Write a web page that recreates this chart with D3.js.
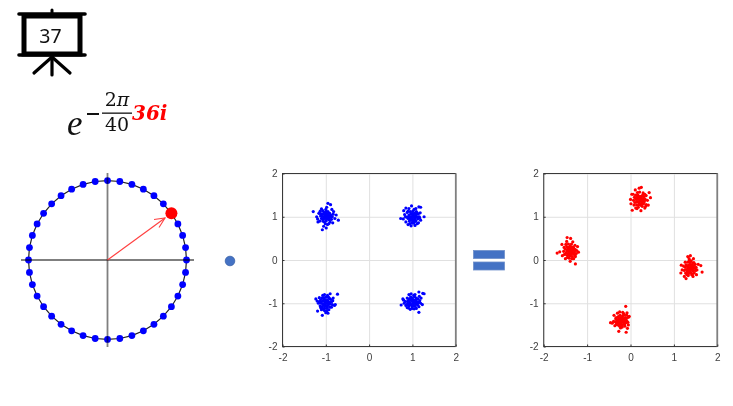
<!DOCTYPE html>
<html>
<head>
<meta charset="utf-8">
<script src="https://cdn.jsdelivr.net/npm/d3@7"></script>
<style>
    html, body { margin: 0; padding: 0; background: #fff; }
    svg { display: block; filter: blur(0.3px); }
    .tick text { font-family: "Liberation Sans", sans-serif; font-size: 10px; fill: #404040; }
    .grid line { stroke: #e0e0e0; stroke-width: 1; }
    .grid path, .grid text { display: none; }
    .ax path { display: none; }
    .ax line { stroke: #333; }
</style>
</head>
<body>
<svg id="chart" width="733" height="406"></svg>
<script>
// ===== Data =====
const slideNumber = '37';
const axisTicks = [-2, -1, 0, 1, 2];
const activeIndex = 4;

// 40 points of the unit circle, activeIndex is the red one
const circleRe = [1, 0.988, 0.951, 0.891, 0.809, 0.707, 0.588, 0.454, 0.309, 0.156,
    0, -0.156, -0.309, -0.454, -0.588, -0.707, -0.809, -0.891, -0.951, -0.988,
    -1, -0.988, -0.951, -0.891, -0.809, -0.707, -0.588, -0.454, -0.309, -0.156,
    0, 0.156, 0.309, 0.454, 0.588, 0.707, 0.809, 0.891, 0.951, 0.988];
const circleIm = [0, 0.156, 0.309, 0.454, 0.588, 0.707, 0.809, 0.891, 0.951, 0.988,
    1, 0.988, 0.951, 0.891, 0.809, 0.707, 0.588, 0.454, 0.309, 0.156,
    0, -0.156, -0.309, -0.454, -0.588, -0.707, -0.809, -0.891, -0.951, -0.988,
    -1, -0.988, -0.951, -0.891, -0.809, -0.707, -0.588, -0.454, -0.309, -0.156];

const bluePoints = [
    // top left
    [-1.29,1.12],[-1.08,0.70],[-0.95,1.31],[-0.89,1.28],[-0.71,0.92],[-1.18,0.88],[-1.16,1.08],[-1.10,1.18],[-0.98,1.22],[-1.00,1.17],
    [-0.86,1.17],[-0.82,1.12],[-1.05,0.78],[-0.99,0.74],[-0.93,0.84],[-0.84,0.86],[-0.79,0.96],[-0.76,1.04],[-1.21,1.00],[-1.19,0.95],
    [-1.14,0.90],[-1.12,1.02],[-1.10,0.96],[-1.08,1.06],[-1.06,0.94],[-1.05,1.00],[-1.04,1.10],[-1.03,0.88],[-1.02,1.03],[-1.01,0.96],
    [-1.00,1.08],[-0.99,0.91],[-0.98,1.00],[-0.97,1.05],[-0.96,0.95],[-0.95,1.12],[-0.94,0.98],[-0.93,1.02],[-0.92,0.93],[-0.91,1.08],
    [-0.90,0.99],[-0.88,1.03],[-0.87,0.94],[-0.85,1.00],[-0.83,1.06],[-0.96,0.82],[-1.01,0.84],[-1.13,1.13],[-0.90,0.88],[-1.07,1.14],
    [-1.09,1.01],[-1.07,0.90],[-1.04,0.97],[-1.03,1.06],[-1.00,1.00],[-0.99,1.12],[-0.96,1.03],[-0.94,1.07],[-0.93,0.95],[-1.12,1.07],
    // top right
    [0.73,0.96],[0.80,1.14],[0.85,1.20],[0.92,1.19],[0.98,1.25],[1.08,1.19],[1.15,1.23],[1.19,1.22],[1.27,1.00],[1.19,0.92],
    [1.14,0.86],[1.06,0.80],[0.97,0.79],[0.90,0.82],[0.85,0.88],[0.79,0.95],[0.82,1.05],[0.88,1.10],[0.90,0.96],[0.92,1.04],
    [0.93,0.90],[0.95,1.12],[0.96,1.00],[0.97,0.92],[0.98,1.07],[0.99,0.86],[1.00,0.98],[1.01,1.13],[1.02,1.03],[1.03,0.92],
    [1.04,0.87],[1.05,1.08],[1.06,0.97],[1.07,1.02],[1.08,0.90],[1.09,1.12],[1.10,1.00],[1.12,0.95],[1.13,1.06],[1.16,1.00],
    [1.18,1.09],[0.87,0.99],[0.94,0.84],[1.01,0.90],[1.04,1.17],[0.90,1.13],[1.11,0.84],[0.84,1.00],[1.17,0.97],[1.00,1.05],
    [0.94,0.95],[0.96,1.06],[0.99,0.95],[1.01,1.07],[1.03,0.99],[1.05,0.93],[1.08,1.05],[1.11,1.09],[0.91,1.00],[1.02,0.85],
    // bottom left
    [-1.23,-0.90],[-1.20,-0.95],[-1.19,-1.18],[-1.08,-1.28],[-0.95,-1.23],[-0.98,-1.18],[-0.91,-1.09],[-0.80,-1.05],[-0.78,-1.03],[-0.73,-0.79],
    [-0.90,-0.78],[-0.83,-0.88],[-1.03,-0.80],[-1.07,-0.82],[-1.15,-0.87],[-1.17,-1.00],[-1.13,-1.06],[-1.10,-1.15],[-1.03,-1.17],[-1.00,-1.22],
    [-1.12,-0.92],[-1.10,-1.00],[-1.09,-0.88],[-1.08,-1.08],[-1.06,-0.95],[-1.05,-1.03],[-1.04,-0.87],[-1.03,-1.12],[-1.02,-0.98],[-1.01,-0.92],
    [-1.00,-1.06],[-0.99,-0.86],[-0.98,-1.00],[-0.97,-1.12],[-0.96,-0.93],[-0.95,-1.05],[-0.94,-0.86],[-0.92,-0.98],[-0.90,-1.02],[-0.89,-0.91],
    [-0.87,-0.97],[-0.85,-1.03],[-0.84,-0.94],[-0.96,-0.82],[-1.12,-1.10],[-1.15,-0.96],[-1.06,-1.13],[-0.93,-1.15],[-0.87,-1.09],[-1.01,-1.02],
    [-1.11,-0.97],[-1.07,-1.02],[-1.05,-0.90],[-1.03,-1.06],[-1.00,-0.96],[-0.98,-1.08],[-0.95,-0.97],[-0.93,-1.01],[-1.09,-1.12],[-0.92,-0.88],
    // bottom right
    [0.74,-1.04],[0.78,-0.90],[0.80,-0.93],[0.85,-1.05],[0.88,-1.10],[0.92,-0.80],[0.97,-0.78],[1.03,-0.82],[1.15,-0.74],[1.24,-0.77],
    [1.27,-0.78],[1.20,-0.88],[1.23,-1.03],[1.15,-1.08],[1.15,-1.21],[1.04,-1.13],[0.95,-1.14],[1.00,-1.12],[1.09,-1.12],[1.19,-1.00],
    [0.84,-0.96],[0.88,-0.88],[0.89,-1.00],[0.90,-0.94],[0.92,-1.06],[0.93,-0.90],[0.94,-0.99],[0.96,-0.85],[0.97,-1.03],[0.98,-0.93],
    [0.99,-1.08],[1.00,-0.88],[1.01,-0.98],[1.02,-1.05],[1.03,-0.92],[1.04,-1.00],[1.05,-0.85],[1.06,-1.07],[1.07,-0.94],[1.08,-1.02],
    [1.09,-0.88],[1.10,-0.97],[1.12,-1.04],[1.13,-0.90],[1.14,-0.98],[1.16,-0.84],[1.17,-0.94],[0.81,-1.00],[0.91,-1.11],[1.06,-0.80],
    [0.93,-0.96],[0.95,-1.03],[0.97,-0.90],[1.00,-0.95],[1.02,-1.00],[1.04,-0.94],[1.06,-1.00],[1.08,-0.93],[1.11,-1.00],[0.90,-1.03]
];

const redPoints = [
    // left
    [-1.69,0.16],[-1.58,0.36],[-1.63,0.19],[-1.57,0.10],[-1.50,0.03],[-1.39,-0.03],[-1.27,-0.09],[-1.27,0.08],[-1.22,0.31],[-1.28,0.34],
    [-1.38,0.50],[-1.46,0.52],[-1.47,0.43],[-1.53,0.29],[-1.43,0.37],[-1.33,0.42],[-1.24,0.22],[-1.20,0.18],[-1.31,0.03],[-1.45,0.06],
    [-1.54,0.20],[-1.52,0.13],[-1.50,0.25],[-1.48,0.17],[-1.47,0.31],[-1.46,0.11],[-1.44,0.24],[-1.43,0.15],[-1.42,0.29],[-1.41,0.20],
    [-1.40,0.09],[-1.39,0.33],[-1.38,0.22],[-1.37,0.13],[-1.36,0.27],[-1.35,0.18],[-1.34,0.08],[-1.33,0.30],[-1.32,0.23],[-1.31,0.14],
    [-1.30,0.26],[-1.29,0.19],[-1.28,0.11],[-1.27,0.24],[-1.36,0.37],[-1.41,0.04],[-1.25,0.15],[-1.49,0.36],[-1.35,0.03],[-1.44,0.28],
    [-1.46,0.21],[-1.42,0.12],[-1.40,0.26],[-1.38,0.17],[-1.37,0.30],[-1.35,0.22],[-1.33,0.16],[-1.31,0.28],[-1.43,0.20],[-1.39,0.13],
    // top
    [0.00,1.40],[0.01,1.30],[0.04,1.15],[0.03,1.52],[0.06,1.52],[0.11,1.62],[0.20,1.66],[0.25,1.68],[0.43,1.56],[0.46,1.44],
    [0.41,1.27],[0.33,1.20],[0.24,1.14],[0.12,1.20],[0.08,1.27],[0.16,1.56],[0.29,1.55],[0.36,1.49],[0.39,1.38],[0.36,1.28],
    [0.07,1.38],[0.09,1.45],[0.10,1.33],[0.12,1.50],[0.13,1.40],[0.14,1.27],[0.15,1.45],[0.16,1.35],[0.17,1.50],[0.18,1.22],
    [0.19,1.42],[0.20,1.32],[0.21,1.57],[0.22,1.39],[0.23,1.27],[0.24,1.47],[0.25,1.35],[0.26,1.42],[0.27,1.24],[0.28,1.50],
    [0.29,1.38],[0.30,1.30],[0.31,1.44],[0.32,1.35],[0.33,1.52],[0.34,1.40],[0.35,1.24],[0.20,1.46],[0.15,1.19],[0.27,1.33],
    [0.14,1.34],[0.17,1.41],[0.19,1.28],[0.21,1.37],[0.23,1.44],[0.25,1.29],[0.27,1.40],[0.30,1.47],[0.12,1.43],[0.18,1.48],
    // right
    [1.16,-0.30],[1.19,-0.23],[1.17,-0.12],[1.24,-0.38],[1.28,-0.43],[1.33,-0.36],[1.44,-0.38],[1.52,-0.34],[1.65,-0.28],[1.62,-0.13],
    [1.56,-0.10],[1.45,0.03],[1.38,0.10],[1.32,0.08],[1.26,-0.05],[1.22,-0.14],[1.29,-0.31],[1.36,-0.01],[1.46,-0.06],[1.50,-0.24],
    [1.24,-0.24],[1.26,-0.17],[1.27,-0.30],[1.28,-0.11],[1.29,-0.22],[1.30,-0.14],[1.31,-0.27],[1.32,-0.05],[1.33,-0.19],[1.34,-0.31],
    [1.35,-0.12],[1.36,-0.24],[1.37,-0.06],[1.38,-0.17],[1.39,-0.29],[1.40,-0.02],[1.41,-0.21],[1.42,-0.12],[1.43,-0.32],[1.44,-0.17],
    [1.45,-0.25],[1.46,-0.13],[1.47,-0.30],[1.48,-0.19],[1.49,-0.10],[1.51,-0.17],[1.53,-0.23],[1.35,0.03],[1.41,-0.34],[1.30,-0.34],
    [1.33,-0.13],[1.35,-0.20],[1.37,-0.27],[1.39,-0.12],[1.41,-0.16],[1.43,-0.24],[1.45,-0.19],[1.39,-0.21],[1.34,-0.25],[1.43,-0.07],
    // bottom
    [-0.46,-1.45],[-0.42,-1.46],[-0.38,-1.28],[-0.36,-1.52],[-0.27,-1.65],[-0.25,-1.20],[-0.11,-1.07],[-0.10,-1.67],[-0.07,-1.58],[-0.05,-1.50],
    [-0.04,-1.32],[-0.03,-1.30],[-0.08,-1.22],[-0.18,-1.21],[-0.30,-1.23],[-0.34,-1.36],[-0.39,-1.42],[-0.33,-1.49],[-0.23,-1.57],[-0.13,-1.53],
    [-0.35,-1.43],[-0.33,-1.33],[-0.32,-1.42],[-0.30,-1.38],[-0.29,-1.50],[-0.28,-1.31],[-0.27,-1.44],[-0.26,-1.36],[-0.25,-1.53],[-0.24,-1.28],
    [-0.23,-1.41],[-0.22,-1.33],[-0.21,-1.47],[-0.20,-1.38],[-0.19,-1.55],[-0.18,-1.29],[-0.17,-1.43],[-0.16,-1.36],[-0.15,-1.49],[-0.14,-1.27],
    [-0.13,-1.40],[-0.12,-1.33],[-0.11,-1.45],[-0.10,-1.38],[-0.09,-1.27],[-0.08,-1.42],[-0.07,-1.33],[-0.06,-1.44],[-0.24,-1.48],[-0.16,-1.24],
    [-0.31,-1.46],[-0.28,-1.39],[-0.26,-1.46],[-0.24,-1.36],[-0.22,-1.42],[-0.20,-1.50],[-0.18,-1.37],[-0.15,-1.43],[-0.13,-1.47],[-0.19,-1.33]
];

// ===== Setup =====
const svg = d3.select('#chart');
const BLUE = '#0000ff';
const RED = '#ff0000';
const SHAPE = '#4472c4';

// ===== Slide icon =====
function drawIcon() {
    const g = svg.append('g').attr('stroke', '#000').attr('stroke-linecap', 'round').attr('fill', 'none');
    g.append('rect').attr('x', 24).attr('y', 16).attr('width', 56).attr('height', 38)
        .attr('stroke-width', 5).attr('stroke-linecap', 'butt');
    [[19, 14, 85, 14, 3.6], [19, 55, 85, 55, 3.6], [52, 10, 52, 14, 3],
     [52, 56, 52, 75, 3.2], [52, 57, 34, 73, 3.2], [52, 57, 70, 73, 3.2]].forEach(s => {
        g.append('line').attr('x1', s[0]).attr('y1', s[1]).attr('x2', s[2]).attr('y2', s[3])
            .attr('stroke-width', s[4]);
    });
    svg.append('text').attr('x', 50.5).attr('y', 42.5).attr('text-anchor', 'middle')
        .attr('font-family', '"Noto Sans", sans-serif').attr('font-size', 19.5)
        .attr('fill', '#111').text(slideNumber);
}

// ===== Formula =====
function drawFormula() {
    const g = svg.append('g').attr('font-family', '"DejaVu Serif", serif').attr('fill', '#111');
    g.append('text').attr('x', 67).attr('y', 135).attr('font-size', 35)
        .attr('font-family', '"Liberation Serif", serif').attr('font-style', 'italic').text('e');
    g.append('rect').attr('x', 87).attr('y', 113).attr('width', 12).attr('height', 2);
    g.append('rect').attr('x', 102).attr('y', 112.5).attr('width', 30).attr('height', 1.3);
    const top = g.append('text').attr('x', 117).attr('y', 105.5).attr('text-anchor', 'middle').attr('font-size', 19);
    top.append('tspan').text('2');
    top.append('tspan').attr('font-style', 'italic').text('π');
    g.append('text').attr('x', 117).attr('y', 131).attr('text-anchor', 'middle').attr('font-size', 19).text('40');
    g.append('text').attr('x', 132).attr('y', 120).attr('font-size', 20).attr('fill', RED)
        .attr('font-weight', 'bold').attr('font-style', 'italic').text('36i');
}

// ===== Unit circle =====
function drawCircle() {
    const x = d3.scaleLinear().domain([-1.095, 1.095]).range([21, 194]);
    const y = d3.scaleLinear().domain([-1.095, 1.095]).range([347, 173]);
    const points = circleRe.map((re, i) => ({ re, im: circleIm[i], i }));

    svg.append('path')
        .attr('d', d3.line().x(d => x(d.re)).y(d => y(d.im)).curve(d3.curveLinearClosed)(points))
        .attr('fill', 'none').attr('stroke', '#222').attr('stroke-width', 1.2);

    svg.selectAll('.unit-dot')
        .data(points.filter(d => d.i !== activeIndex))
        .enter()
        .append('circle')
        .attr('class', 'unit-dot')
        .attr('cx', d => x(d.re))
        .attr('cy', d => y(d.im))
        .attr('r', 3.4)
        .attr('fill', BLUE);

    // Axes sit over the dots, semi transparent
    const axisColor = '#000';
    svg.append('line').attr('x1', x.range()[0]).attr('x2', x.range()[1]).attr('y1', y(0)).attr('y2', y(0))
        .attr('stroke', axisColor).attr('stroke-opacity', 0.5).attr('stroke-width', 1.8);
    svg.append('line').attr('x1', x(0)).attr('x2', x(0)).attr('y1', y.range()[0]).attr('y2', y.range()[1])
        .attr('stroke', axisColor).attr('stroke-opacity', 0.5).attr('stroke-width', 1.8);

    // Arrow to the active point
    const active = points[activeIndex];
    const tipX = x(active.re * 0.9);
    const tipY = y(active.im * 0.9);
    svg.append('line').attr('x1', x(0)).attr('y1', y(0)).attr('x2', tipX).attr('y2', tipY)
        .attr('stroke', '#ff4040').attr('stroke-width', 1.2);
    svg.append('path')
        .attr('d', `M${tipX - 11},${tipY + 1.5}L${tipX},${tipY}L${tipX - 6},${tipY + 9.5}`)
        .attr('fill', 'none').attr('stroke', '#ff4040').attr('stroke-width', 1.1);
    svg.append('circle').attr('cx', x(active.re)).attr('cy', y(active.im)).attr('r', 6).attr('fill', RED);
}

// ===== Scatter plots =====
function drawScatter(left, right, data, color) {
    const top = 173.5;
    const bottom = 346.5;
    const x = d3.scaleLinear().domain([-2, 2]).range([left, right]);
    const y = d3.scaleLinear().domain([-2, 2]).range([bottom, top]);
    const g = svg.append('g');

    g.append('g').attr('class', 'grid').attr('transform', `translate(0,${bottom})`)
        .call(d3.axisBottom(x).tickValues(axisTicks).tickSize(-(bottom - top)));
    g.append('g').attr('class', 'grid').attr('transform', `translate(${left},0)`)
        .call(d3.axisLeft(y).tickValues(axisTicks).tickSize(-(right - left)));

    g.selectAll('.pt')
        .data(data)
        .enter()
        .append('circle')
        .attr('class', 'pt')
        .attr('cx', d => x(d[0]))
        .attr('cy', d => y(d[1]))
        .attr('r', 1.6)
        .attr('fill', color);

    // Box, the right edge is paler and wider in the reference
    g.append('rect').attr('x', left).attr('y', top).attr('width', right - left).attr('height', bottom - top)
        .attr('fill', 'none').attr('stroke', '#3a3a3a').attr('stroke-width', 1);
    g.append('line').attr('x1', right).attr('x2', right).attr('y1', top).attr('y2', bottom)
        .attr('stroke', '#808080').attr('stroke-width', 1.6);

    g.append('g').attr('class', 'ax').attr('transform', `translate(0,${bottom})`)
        .call(d3.axisBottom(x).tickValues(axisTicks).tickFormat(d => String(d)).tickSizeInner(-2).tickSizeOuter(0).tickPadding(7));
    g.append('g').attr('class', 'ax').attr('transform', `translate(${left},0)`)
        .call(d3.axisLeft(y).tickValues(axisTicks).tickFormat(d => String(d)).tickSizeInner(-2).tickSizeOuter(0).tickPadding(5));
}

// ===== Operators =====
function drawOperators() {
    svg.append('circle').attr('cx', 230).attr('cy', 261).attr('r', 4.8)
        .attr('fill', SHAPE).attr('stroke', '#3a62a8').attr('stroke-width', 0.8);
    [250.5, 262].forEach(top => {
        svg.append('rect').attr('x', 473.5).attr('y', top).attr('width', 31).attr('height', 8)
            .attr('fill', SHAPE).attr('stroke', '#6f8fca').attr('stroke-width', 0.8);
    });
}

drawIcon();
drawFormula();
drawCircle();
drawOperators();
drawScatter(282.5, 455.7, bluePoints, BLUE);
drawScatter(543.7, 717.3, redPoints, RED);
</script>
</body>
</html>
